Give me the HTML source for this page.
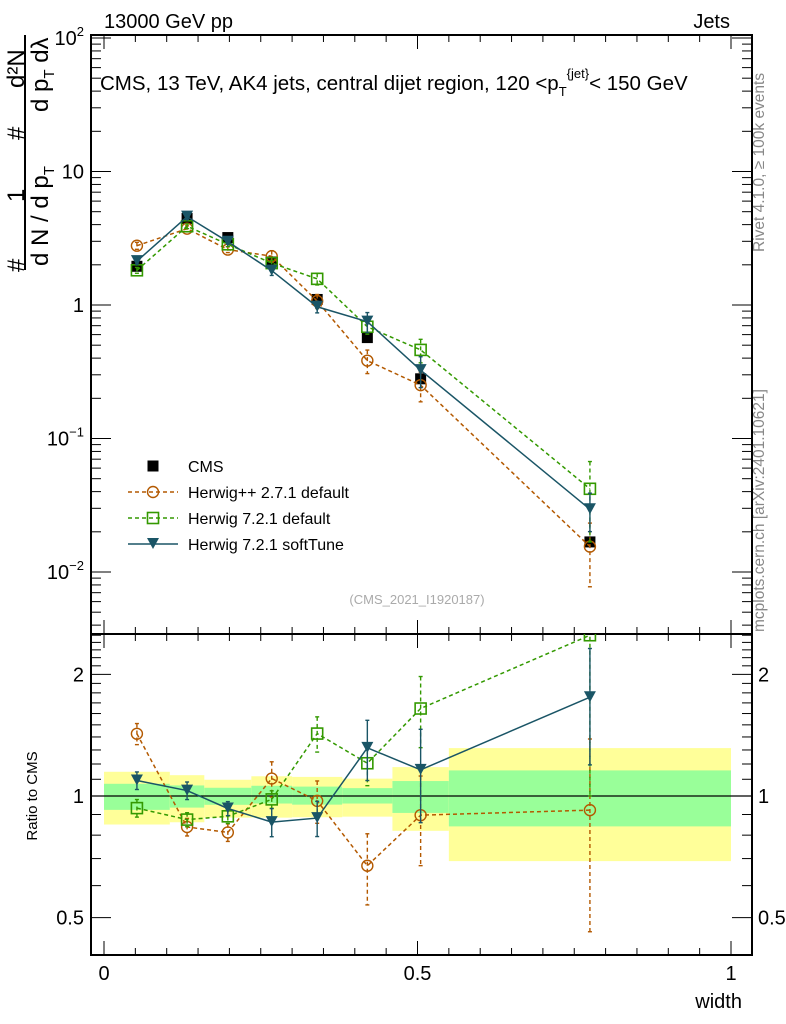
<!DOCTYPE html>
<html><head><meta charset="utf-8">
<style>
html,body{margin:0;padding:0;background:#fff;}
svg{display:block;font-family:"Liberation Sans",sans-serif;}
</style></head>
<body>
<svg id="chart" width="786" height="1024" viewBox="0 0 786 1024" xmlns="http://www.w3.org/2000/svg">
<text x="104" y="28" font-size="20">13000 GeV pp</text>
<text x="730" y="28" font-size="20" text-anchor="end">Jets</text>
<g font-size="24">
  <text transform="translate(24,272) rotate(-90)">#</text>
  <text transform="translate(24,202) rotate(-90)">1</text>
  <text transform="translate(24,140) rotate(-90)">#</text>
  <text transform="translate(24,88) rotate(-90)">d²N</text>
  <line x1="25" y1="35" x2="25" y2="270" stroke="#000" stroke-width="2"/>
  <text transform="translate(48,266) rotate(-90)">d N / d p<tspan font-size="15" dy="6">T</tspan></text>
  <text transform="translate(48,112) rotate(-90)">d p<tspan font-size="15" dy="6">T</tspan><tspan dy="-6">  dλ</tspan></text>
</g>
<text transform="translate(37,796) rotate(-90)" font-size="15" text-anchor="middle">Ratio to CMS</text>
<text x="742" y="1008" font-size="20" text-anchor="end">width</text>
<text transform="translate(764,252) rotate(-90)" font-size="15.5" fill="#888">Rivet 4.1.0, ≥ 100k events</text>
<text transform="translate(764,632) rotate(-90)" font-size="15.5" fill="#888">mcplots.cern.ch [arXiv:2401.10621]</text>
<g id="plot"></g>
<text x="100" y="90" font-size="20.5">CMS, 13 TeV, AK4 jets, central dijet region, 120 &lt;p<tspan font-size="13" dy="6">T</tspan><tspan font-size="13" dy="-18">{jet}</tspan><tspan dy="12">&lt; 150 GeV</tspan></text>
<text x="417" y="604" font-size="13" fill="#aaa" text-anchor="middle">(CMS_2021_I1920187)</text>
</svg>
<script>
const binEdges=[0,0.105,0.16,0.235,0.3,0.38,0.46,0.55,1.0];
const cmsVals=[1.95,4.45,3.2,2.1,1.1,0.57,0.28,0.0168];
const bandYelHi=[1.148,1.126,1.097,1.119,1.115,1.104,1.179,1.314];
const bandGrnHi=[1.072,1.062,1.048,1.060,1.055,1.046,1.089,1.157];
const bandGrnLo=[0.924,0.936,0.951,0.958,0.952,0.958,0.908,0.841];
const bandYelLo=[0.850,0.861,0.884,0.884,0.886,0.889,0.820,0.690];
const hppVals=[2.78,3.73,2.6,2.32,1.07,0.383,0.251,0.0155];
const hppErr=[0.06,0.05,0.05,0.1,0.12,0.2,0.25,0.5];
const h7Vals=[1.82,3.89,2.85,2.06,1.57,0.687,0.461,0.042];
const h7Err=[0.05,0.04,0.04,0.05,0.1,0.12,0.2,0.6];
const softVals=[2.13,4.59,2.98,1.81,0.97,0.75,0.325,0.0295];
const softErr=[0.05,0.05,0.04,0.08,0.1,0.17,0.26,0.32];
const xTickVals=[0,0.5,1];
const xTickLabels=['0','0.5','1'];
const mainTickVals=[0.01,0.1,1,10,100];
const ratioTickVals=[0.5,1,2];
const ratioTickLabels=['0.5','1','2'];

const NS='http://www.w3.org/2000/svg';
const g=document.getElementById('plot');
const L=91,R=752,MT=35,MB=634,RB=955;
const sx=v=>104+v*627;
const sy=v=>305-Math.log10(v)*133.5;
const ry=v=>796-Math.log10(v)*404;
function mk(tag,at,parent){const e=document.createElementNS(NS,tag);for(const k in at)e.setAttribute(k,at[k]);(parent||g).appendChild(e);return e;}

for(let i=0;i<binEdges.length-1;i++){
  const x1=sx(binEdges[i]),x2=sx(binEdges[i+1]);
  const y=mk('rect',{x:x1,y:ry(bandYelHi[i]),width:x2-x1,height:ry(bandYelLo[i])-ry(bandYelHi[i]),fill:'#ffff99'});
  
  
  const gr=mk('rect',{x:x1,y:ry(bandGrnHi[i]),width:x2-x1,height:ry(bandGrnLo[i])-ry(bandGrnHi[i]),fill:'#99ff99'});
  
  
}
const one=mk('line',{x1:L,x2:R,y1:ry(1),y2:ry(1),stroke:'#000','stroke-width':1.3});



const f1=mk('rect',{x:L,y:MT,width:R-L,height:MB-MT,fill:'none',stroke:'#000','stroke-width':2});


const f2=mk('rect',{x:L,y:MB,width:R-L,height:RB-MB,fill:'none',stroke:'#000','stroke-width':2});



for(let k=0;k<=20;k++){
  const v=k*0.05, x=sx(v), big=(k%10===0), len=big?14:7;
  for(const [yt,yb] of [[MT,MB],[MB,RB]]){
    mk('line',{x1:x,x2:x,y1:yt,y2:yt+len,stroke:'#000','stroke-width':1});
    mk('line',{x1:x,x2:x,y1:yb,y2:yb-len,stroke:'#000','stroke-width':1});
  }
}
xTickVals.forEach((v,i)=>{const t=mk('text',{x:sx(v),y:980,'font-size':20,'text-anchor':'middle'});t.textContent=xTickLabels[i];

});

for(let d=-3;d<=2;d++){
  for(let m=1;m<10;m++){
    const v=m*Math.pow(10,d), y=sy(v);
    if(y<MT-0.5||y>MB) continue;
    const len=m===1?20:10;
    mk('line',{x1:L,x2:L+len,y1:y,y2:y,stroke:'#000'});
    mk('line',{x1:R,x2:R-len,y1:y,y2:y,stroke:'#000'});
  }
}
mainTickVals.forEach(v=>{
  const y=sy(v);const t=mk('text',{x:84,y:y+7,'font-size':20,'text-anchor':'end'});
  
  
  const e=Math.round(Math.log10(v));
  if(e===0) t.textContent='1'; else if(e===1) t.textContent='10';
  else {t.textContent='10';const s=document.createElementNS(NS,'tspan');s.setAttribute('font-size',13);s.setAttribute('dy',-9);s.textContent=String(e).replace('-','−');t.appendChild(s);}
});
for(let m=4;m<=25;m++){
  const v=m/10, y=ry(v);
  if(y<MB||y>RB) continue;
  const len=(m===5||m===10||m===20)?20:10;
  mk('line',{x1:L,x2:L+len,y1:y,y2:y,stroke:'#000'});
  mk('line',{x1:R,x2:R-len,y1:y,y2:y,stroke:'#000'});
}
ratioTickVals.forEach((v,i)=>{
  const t1=mk('text',{x:84,y:ry(v)+7,'font-size':20,'text-anchor':'end'});t1.textContent=ratioTickLabels[i];
  
  
  const t2=mk('text',{x:758,y:ry(v)+7,'font-size':20});t2.textContent=ratioTickLabels[i];
  
  
});

const centers=binEdges.slice(0,-1).map((e,i)=>(e+binEdges[i+1])/2);

const defs=mk('defs',{});
const c1=mk('clipPath',{id:'cm'},defs);mk('rect',{x:L,y:MT,width:R-L,height:MB-MT},c1);
const c2=mk('clipPath',{id:'cr'},defs);mk('rect',{x:L,y:MB,width:R-L,height:RB-MB},c2);

function marker(parent,type,x,y,col){
  let e;
  if(type==='circle') e=mk('circle',{cx:x,cy:y,r:5.5,fill:'none',stroke:col,'stroke-width':1.4},parent);
  else if(type==='square') e=mk('rect',{x:x-5.5,y:y-5.5,width:11,height:11,fill:'none',stroke:col,'stroke-width':1.6},parent);
  else if(type==='tri') e=mk('path',{d:`M${x-6},${y-6}L${x+6},${y-6}L${x},${y+5}Z`,fill:col},parent);
  else e=mk('rect',{x:x-5.5,y:y-5.5,width:11,height:11,fill:col},parent);
  return e;
}
function series(name,vals,errs,col,dash,type){
  for(const panel of ['main','ratio']){
    const grp=mk('g',{'clip-path':panel==='main'?'url(#cm)':'url(#cr)'});
    
    
    const Y=panel==='main'?(i=>sy(vals[i])):(i=>ry(vals[i]/cmsVals[i]));
    const Yv=panel==='main'?((i,f)=>sy(vals[i]*f)):((i,f)=>ry(vals[i]/cmsVals[i]*f));
    const pts=centers.map((c,i)=>sx(c)+','+Y(i)).join(' ');
    mk('polyline',{points:pts,fill:'none',stroke:col,'stroke-width':1.5,'stroke-dasharray':dash},grp);
    centers.forEach((c,i)=>{
      const x=sx(c);
      mk('line',{x1:x,x2:x,y1:Yv(i,1+errs[i]),y2:Yv(i,Math.max(0.05,1-errs[i])),stroke:col,'stroke-width':1.4,'stroke-dasharray':dash},grp);
      mk('line',{x1:x-2,x2:x+2,y1:Yv(i,1+errs[i]),y2:Yv(i,1+errs[i]),stroke:col,'stroke-width':1.4},grp);
      mk('line',{x1:x-2,x2:x+2,y1:Yv(i,Math.max(0.05,1-errs[i])),y2:Yv(i,Math.max(0.05,1-errs[i])),stroke:col,'stroke-width':1.4},grp);
      const m=marker(grp,type,x,Y(i),col);
      
      
    });
  }
}
const cmsG=mk('g',{'clip-path':'url(#cm)'});


centers.forEach((c,i)=>{const m=marker(cmsG,'fill',sx(c),sy(cmsVals[i]),'#000');

});
series('herwigpp-2-7-1',hppVals,hppErr,'#b35900','4,3','circle');
series('herwig-7-2-1-default',h7Vals,h7Err,'#339900','4,3','square');
series('herwig-7-2-1-softtune',softVals,softErr,'#1a5566','','tri');

const leg=mk('g',{});


const legNames=['CMS','Herwig++ 2.7.1 default','Herwig 7.2.1 default','Herwig 7.2.1 softTune'];
const legCols=['#000','#b35900','#339900','#1a5566'];
const legTypes=['fill','circle','square','tri'];
const legDash=['','4,3','4,3',''];
legNames.forEach((n,i)=>{
  const y=466+i*26;
  const e=mk('g',{},leg);
  
  
  if(i>0) mk('line',{x1:128,x2:178,y1:y,y2:y,stroke:legCols[i],'stroke-width':1.5,'stroke-dasharray':legDash[i]},e);
  marker(e,legTypes[i],153,y,legCols[i]);
  const t=mk('text',{x:188,y:y+6,'font-size':16},e);t.textContent=n;
});
</script>
</body></html>
